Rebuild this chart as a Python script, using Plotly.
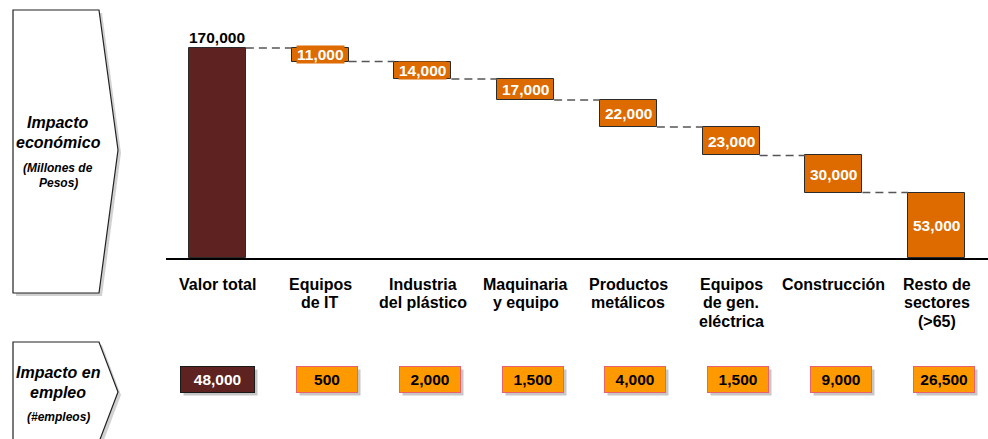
import plotly.graph_objects as go

# ---------------- data ----------------
categories = ["Valor total", "Equipos<br>de IT", "Industria<br>del plástico", "Maquinaria<br>y equipo",
              "Productos<br>metálicos", "Equipos<br>de gen.<br>eléctrica", "Construcción",
              "Resto de<br>sectores<br>(>65)"]
econ_total = 170000
econ_values = [11000, 14000, 17000, 22000, 23000, 30000, 53000]
employment = [48000, 500, 2000, 1500, 4000, 1500, 9000, 26500]

# ---------------- style ----------------
MAROON = "#5E2220"
ORANGE = "#DD6B00"
BOX_ORANGE = "#FF9900"
BOX_BORDER = "#E8626E"
FONT = "Liberation Sans, Arial, sans-serif"

W_FIG, H_FIG = 988, 439
L, R, T, B = 166, 988, 28, 258
PW, PH = R - L, B - T
y_top = econ_total * PH / 210.0  # 170,000 sits 210 px above the baseline


def px_x(px):
    return (px - L) / PW


def px_y(py):
    return (B - py) / PH


def fmt(v):
    return f"{v:,}"


# waterfall geometry from data
xs = list(range(len(categories)))
bases = [0]
heights = [econ_total]
level = econ_total
for v in econ_values:
    bases.append(level - v)
    heights.append(v)
    level -= v
colors = [MAROON] + [ORANGE] * len(econ_values)
bar_w = 0.555

fig = go.Figure()
fig.add_trace(go.Bar(
    x=xs, y=heights, base=bases, width=bar_w,
    marker=dict(color=colors, line=dict(color="#2b2b2b", width=1)),
    hoverinfo="skip", showlegend=False,
))

shapes = []
annotations = []

# dashed connectors
tops = [b + h for b, h in zip(bases, heights)]
for i in range(len(xs) - 1):
    lvl = bases[i] if i > 0 else tops[0]
    shapes.append(dict(type="line", xref="x", yref="y",
                       x0=xs[i] + bar_w / 2, x1=xs[i + 1] - bar_w / 2, y0=lvl, y1=lvl,
                       line=dict(color="#555555", width=1.5, dash="8px,5px")))

# value labels
annotations.append(dict(x=xs[0], y=tops[0], xref="x", yref="y", text="<b>" + fmt(econ_total) + "</b>",
                        showarrow=False, yanchor="bottom", yshift=0,
                        font=dict(family=FONT, size=15.5, color="black")))
for i, v in enumerate(econ_values, start=1):
    annotations.append(dict(x=xs[i], y=bases[i] + heights[i] / 2, xref="x", yref="y",
                            text="<b>" + fmt(v) + "</b>", showarrow=False,
                            bgcolor=ORANGE, borderpad=0,
                            font=dict(family=FONT, size=15.5, color="white")))

# category labels (one annotation per line for tight line spacing)
LINE_Y = [284, 302.5, 321]
for i, c in enumerate(categories):
    for j, line in enumerate(c.split("<br>")):
        annotations.append(dict(x=xs[i], y=px_y(LINE_Y[j]), xref="x", yref="paper",
                                text="<b>" + line + "</b>", showarrow=False,
                                xanchor="center", yanchor="middle",
                                font=dict(family=FONT, size=16, color="black")))

# employment boxes
box_y = px_y(393)
for i, v in enumerate(employment):
    if i == 0:
        w, fill, border, tc, xs_shift = 73, MAROON, "#1a1a1a", "white", 0
    else:
        w, fill, border, tc, xs_shift = 60, BOX_ORANGE, BOX_BORDER, "black", 7
    # shadow
    annotations.append(dict(x=xs[i], y=box_y, xref="x", yref="paper", text=" ", showarrow=False,
                            xanchor="center", width=w, height=25, borderpad=0, borderwidth=1,
                            bgcolor="rgba(0,0,0,0.22)", bordercolor="rgba(0,0,0,0)",
                            xshift=xs_shift + 3, yshift=-3))
    annotations.append(dict(x=xs[i], y=box_y, xref="x", yref="paper", text="<b>" + fmt(v) + "</b>",
                            showarrow=False, xanchor="center", width=w, height=25, borderpad=0,
                            borderwidth=1, bgcolor=fill, bordercolor=border, xshift=xs_shift,
                            font=dict(family=FONT, size=15.5, color=tc)))


# left chevrons
def chevron(x0, x1, xt, y0, y1, yt):
    pts = [(x0, y0), (x1, y0), (xt, yt), (x1, y1), (x0, y1)]
    return "M " + " L ".join(f"{px_x(a):.5f},{px_y(b):.5f}" for a, b in pts) + " Z"


for (y0, y1, yt) in [(10, 293, 150), (342, 442, 392)]:
    shapes.append(dict(type="path", xref="paper", yref="paper",
                       path=chevron(16, 102, 121, y0 + 3, y1 + 3, yt + 3),
                       fillcolor="rgba(0,0,0,0.18)", line=dict(width=0), layer="below"))
    shapes.append(dict(type="path", xref="paper", yref="paper",
                       path=chevron(13, 99, 118, y0, y1, yt),
                       fillcolor="white", line=dict(color="#222222", width=1.2), layer="below"))

side_texts = [
    ("Impacto", 123, 16),
    ("económico", 142, 16),
    ("(Millones de", 168, 12),
    ("Pesos)", 183, 12),
    ("Impacto en", 372, 16),
    ("empleo", 392, 16),
    ("(#empleos)", 417, 12),
]
for txt, py, sz in side_texts:
    annotations.append(dict(x=px_x(58), y=px_y(py), xref="paper", yref="paper",
                            text="<b><i>" + txt + "</i></b>", showarrow=False,
                            xanchor="center", yanchor="middle",
                            font=dict(family=FONT, size=sz, color="black")))

fig.update_layout(
    width=W_FIG, height=H_FIG,
    margin=dict(l=L, r=W_FIG - R, t=T, b=H_FIG - B, pad=0),
    paper_bgcolor="white", plot_bgcolor="white",
    xaxis=dict(range=[-0.5, len(xs) - 0.5], showgrid=False, zeroline=False, showticklabels=False,
               ticks="", showline=True, linecolor="black", linewidth=1.5, fixedrange=True),
    yaxis=dict(range=[0, y_top], visible=False, showgrid=False, zeroline=False, fixedrange=True),
    shapes=shapes, annotations=annotations, bargap=0,
)

fig.write_html("out.html", config={"displayModeBar": False},
               post_script="document.body.style.margin='0';")
